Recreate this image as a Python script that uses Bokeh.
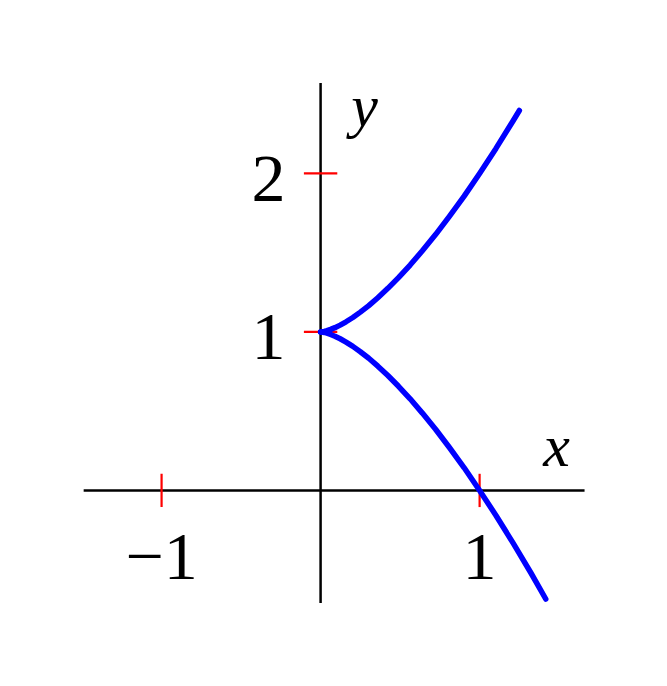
from bokeh.plotting import figure
from bokeh.models import Range1d
from bokeh.core.properties import value
from bokeh.embed import file_html
from bokeh.resources import INLINE

# Curve samples (cusp at (0, 1))
upper_x = [0.0, 0.003, 0.01, 0.023, 0.04, 0.063, 0.09, 0.123, 0.16, 0.203, 0.25, 0.303,
           0.36, 0.423, 0.49, 0.563, 0.64, 0.723, 0.81, 0.903, 1.0, 1.103, 1.21, 1.25]
upper_y = [1.0, 1.0, 1.001, 1.003, 1.008, 1.016, 1.027, 1.043, 1.064, 1.091, 1.125, 1.166,
           1.216, 1.275, 1.343, 1.422, 1.512, 1.614, 1.729, 1.857, 2.0, 2.158, 2.331, 2.397]
lower_x = [0.0, 0.003, 0.01, 0.023, 0.04, 0.063, 0.09, 0.123, 0.16, 0.203, 0.25, 0.303,
           0.36, 0.423, 0.49, 0.563, 0.64, 0.723, 0.81, 0.903, 1.0, 1.103, 1.21, 1.323, 1.416]
lower_y = [1.0, 1.0, 0.999, 0.997, 0.992, 0.984, 0.973, 0.957, 0.936, 0.909, 0.875, 0.834,
           0.784, 0.725, 0.657, 0.578, 0.488, 0.386, 0.271, 0.143, 0.0, -0.158, -0.331, -0.521, -0.685]

x_ticks = [-1, 1]
y_ticks = [1, 2]
x_tick_labels = ["\u22121", "1"]
y_tick_labels = ["1", "2"]

W, H = 651, 670
p = figure(width=W, height=H, output_backend="svg", toolbar_location=None,
           x_range=Range1d(-2.013, 2.081), y_range=Range1d(-1.136, 3.091),
           min_border=0, min_border_left=0, min_border_right=0,
           min_border_top=0, min_border_bottom=0)
p.axis.visible = False
p.grid.visible = False
p.outline_line_color = None
p.background_fill_color = "white"
p.border_fill_color = "white"

# axes
p.line([-1.49, 1.66], [0, 0], line_color="black", line_width=2.5)
p.line([0, 0], [-0.71, 2.57], line_color="black", line_width=2.5)

# ticks
tl = 0.105
p.segment(x0=x_ticks, y0=[-tl] * len(x_ticks), x1=x_ticks, y1=[tl] * len(x_ticks),
          line_color="red", line_width=2.2)
p.segment(x0=[-tl] * len(y_ticks), y0=y_ticks, x1=[tl] * len(y_ticks), y1=y_ticks,
          line_color="red", line_width=2.2)

# curve
p.line(upper_x, upper_y, line_color="blue", line_width=5.5, line_cap="round", line_join="round")
p.line(lower_x, lower_y, line_color="blue", line_width=5.5, line_cap="round", line_join="round")

font = value("Liberation Serif")
p.text(x=x_ticks, y=[-0.42] * len(x_ticks), text=x_tick_labels,
       text_font=font, text_font_size="68px", text_align="center",
       text_baseline="alphabetic", text_color="black")
p.text(x=[-0.327] * len(y_ticks), y=[t - 0.035 for t in y_ticks], text=y_tick_labels,
       text_font=font, text_font_size="68px", text_align="center",
       text_baseline="alphabetic", text_color="black")
p.text(x=[1.484], y=[0.28], text=["x"], text_font=font, text_font_style="italic",
       text_font_size="60px", text_align="center", text_baseline="alphabetic", text_color="black")
p.text(x=[0.277], y=[2.425], text=["y"], text_font=font, text_font_style="italic",
       text_font_size="60px", text_align="center", text_baseline="alphabetic", text_color="black")

open("out.html", "w").write(file_html(p, INLINE))
